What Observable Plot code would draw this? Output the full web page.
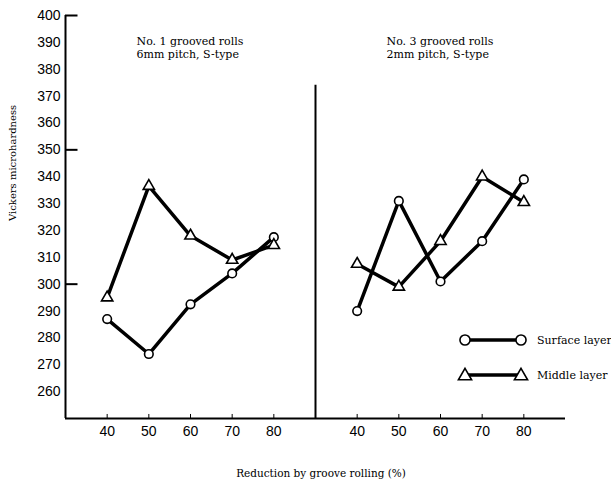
<!DOCTYPE html>
<html>
<head>
<meta charset="utf-8">
<script src="https://cdn.jsdelivr.net/npm/d3@7"></script>
<script src="https://cdn.jsdelivr.net/npm/@observablehq/plot@0.6"></script>
<style>
  html, body { margin: 0; padding: 0; background: #fff; }
  #wrap { position: relative; width: 611px; height: 484px; overflow: hidden; }
  #overlay { position: absolute; left: 0; top: 0; pointer-events: none; }
</style>
</head>
<body>
<div id="wrap"></div>
<script>
// Roll sets (one panel each) and reduction steps
const panels = ["No. 1", "No. 3"];
const panelTitles = ["No. 1 grooved rolls\n6mm pitch, S-type", "No. 3 grooved rolls\n2mm pitch, S-type"];
const reduction = [40, 50, 60, 70, 80];
const layers = ["Surface layer", "Middle layer"];

// Vickers microhardness by reduction (%)
const surfaceNo1 = [287, 274, 292.5, 304, 317.5];
const middleNo1  = [295, 336.5, 318, 309, 314.5];
const surfaceNo3 = [290, 331, 301, 316, 339];
const middleNo3  = [307.5, 299, 316, 340, 330.5];

const yTicks = d3.range(260, 401, 10);
const yMajorTicks = [300, 350, 400];

const series = [
  [panels[0], layers[0], surfaceNo1],
  [panels[0], layers[1], middleNo1],
  [panels[1], layers[0], surfaceNo3],
  [panels[1], layers[1], middleNo3]
];
const rows = series.flatMap(([panel, layer, values]) =>
  values.map((hv, i) => ({panel, layer, reduction: reduction[i], hv})));

const titleRows = panels.map((panel, i) => ({panel, title: panelTitles[i]}));
const leftPanel = [{panel: panels[0], label: "Vickers microhardness"}];
const rightPanel = [{panel: panels[1]}];
const majorTickRows = yMajorTicks.map(y => ({panel: panels[0], y}));

const serif = "DejaVu Serif, Georgia, serif";

const chart = Plot.plot({
  width: 611,
  height: 484,
  marginLeft: 65,
  marginRight: 46,
  marginTop: 15,
  marginBottom: 66,
  fx: {domain: panels, padding: 0, axis: null},
  x: {domain: [30, 90]},
  y: {domain: [250, 400]},
  style: {fontFamily: "Liberation Sans, Arial, sans-serif", fontSize: "14px", color: "black", background: "white"},
  marks: [
    // axis frame
    Plot.ruleY([250], {stroke: "black", strokeWidth: 2}),
    Plot.ruleX(leftPanel, {fx: "panel", x: 30, y1: 250, y2: 400, stroke: "black", strokeWidth: 2}),
    Plot.ruleX(rightPanel, {fx: "panel", x: 30, y1: 250, y2: 374, stroke: "black", strokeWidth: 2}),
    Plot.ruleY(majorTickRows, {fx: "panel", y: "y", x1: 30, x2: 33, stroke: "black", strokeWidth: 2}),
    Plot.ruleX(reduction, {x: d => d, y1: 250, y2: 251.5, stroke: "black", strokeWidth: 1}),
    Plot.axisY({ticks: yTicks, tickSize: 0, tickPadding: 5, label: null}),
    Plot.axisX({ticks: reduction, tickSize: 0, tickPadding: 8, label: null}),
    Plot.text(leftPanel, {fx: "panel", text: "label", frameAnchor: "left", rotate: -90, dx: -53, dy: 4,
      fontFamily: serif, fontSize: 10}),
    // panel headings
    Plot.text(titleRows, {fx: "panel", text: "title", frameAnchor: "top-left", dx: 71, dy: 20,
      textAnchor: "start", lineAnchor: "top", lineHeight: 1.2, fontFamily: serif, fontSize: 11}),
    // series
    Plot.line(rows, {fx: "panel", x: "reduction", y: "hv", z: "layer", stroke: "black", strokeWidth: 3.5}),
    Plot.dot(rows.filter(d => d.layer === layers[0]), {fx: "panel", x: "reduction", y: "hv",
      symbol: "circle", r: 4.3, fill: "white", stroke: "black", strokeWidth: 1.6}),
    Plot.dot(rows.filter(d => d.layer === layers[1]), {fx: "panel", x: "reduction", y: "hv",
      symbol: "triangle", r: 4.2, fill: "white", stroke: "black", strokeWidth: 1.6})
  ]
});

const wrap = document.getElementById("wrap");
wrap.appendChild(chart);

// x-axis title and legend
const svg = d3.select(wrap).append("svg")
  .attr("id", "overlay").attr("width", 611).attr("height", 484);

svg.append("text")
  .attr("x", 321).attr("y", 477)
  .attr("text-anchor", "middle")
  .attr("font-family", serif).attr("font-size", 10.5)
  .text("Reduction by groove rolling (%)");

const legendSymbols = [d3.symbolCircle, d3.symbolTriangle];
const legendSizes = [80, 75];
const legend = svg.selectAll("g.key").data(layers).join("g")
  .attr("class", "key")
  .attr("transform", (d, i) => `translate(465,${340 + i * 35})`);
legend.append("line").attr("x1", 0).attr("x2", 56).attr("stroke", "black").attr("stroke-width", 3.5);
legend.each(function (d, i) {
  const g = d3.select(this);
  [0, 56].forEach(x => g.append("path")
    .attr("d", d3.symbol(legendSymbols[i], legendSizes[i])())
    .attr("transform", `translate(${x},${i ? 1 : 0})`)
    .attr("fill", "white").attr("stroke", "black").attr("stroke-width", 1.6));
});
legend.append("text")
  .attr("x", 72).attr("y", 4)
  .attr("font-family", serif).attr("font-size", 11)
  .text(d => d);
</script>
</body>
</html>
